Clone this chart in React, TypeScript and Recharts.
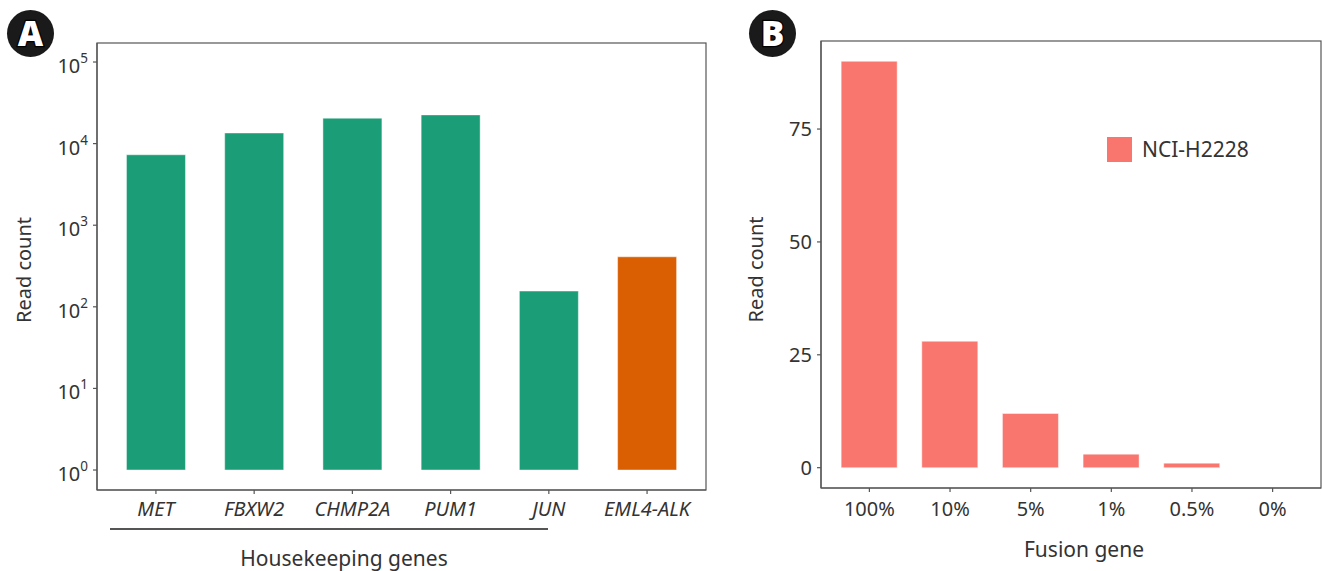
import React from 'react';
import { BarChart, Bar, XAxis, YAxis, Cell, Legend } from 'recharts';

const genes = ['MET', 'FBXW2', 'CHMP2A', 'PUM1', 'JUN', 'EML4-ALK'];
const geneCounts = [7300, 13500, 20500, 22500, 156, 410];
const geneColors = ['#1B9E77', '#1B9E77', '#1B9E77', '#1B9E77', '#1B9E77', '#D95F02'];
const logTicks = [1, 10, 100, 1000, 10000, 100000];
const logExponents = ['0', '1', '2', '3', '4', '5'];

const dilutions = ['100%', '10%', '5%', '1%', '0.5%', '0%'];
const fusionCounts = [90, 28, 12, 3, 1, 0];
const fusionTicks = [0, 25, 50, 75];
const cellLine = 'NCI-H2228';

const dataA = genes.map((g, i) => ({ gene: g, count: geneCounts[i], color: geneColors[i] }));
const dataB = dilutions.map((d, i) => ({ dilution: d, count: fusionCounts[i] }));

const FONT = '"Noto Sans", sans-serif';
const AXIS = '#555555';
const TEXT = '#333333';

const LogTick = (props: any) => {
  const { x, y, payload } = props;
  const idx = logTicks.indexOf(payload.value);
  return (
    <text x={x} y={y + 11} textAnchor="end" fontFamily={FONT} fontSize={20} fill={TEXT}>
      10
      <tspan dy={-10} fontSize={13.5}>{logExponents[idx]}</tspan>
    </text>
  );
};

const GeneTick = (props: any) => {
  const { x, y, payload } = props;
  return (
    <text x={x} y={y} dy="0.71em" textAnchor="middle" fontFamily={FONT} fontStyle="italic" fontSize={20} fill={TEXT}>
      {payload.value}
    </text>
  );
};

const LegendContent = () => (
  <div style={{ display: 'flex', alignItems: 'center', fontFamily: FONT, fontSize: 21, color: TEXT }}>
    <div style={{ width: 25, height: 25, background: '#F8766D', marginRight: 10 }} />
    <span>{cellLine}</span>
  </div>
);

const Badge = ({ cx, cy, letter }: { cx: number; cy: number; letter: string }) => (
  <g>
    <circle cx={cx} cy={cy} r={23.5} fill="#1a1a1a" />
    <text
      x={cx}
      y={cy + 12.5}
      textAnchor="middle"
      fontFamily={FONT}
      fontWeight={900}
      fontSize={35}
      fill="#ffffff"
      stroke="#000000"
      strokeWidth={2.5}
      paintOrder="stroke"
    >
      {letter}
    </text>
  </g>
);

export default function App() {
  return (
    <div style={{ position: 'absolute', left: 0, top: 0, width: 1322, height: 571, background: '#ffffff' }}>
      <div style={{ position: 'absolute', left: 0, top: 0 }}>
        <BarChart width={720} height={571} data={dataA} margin={{ top: 43, right: 14, bottom: 51, left: 0 }} barCategoryGap="20%">
          <XAxis
            dataKey="gene"
            height={30}
            padding={{ left: 9.82, right: 9.82 }}
            tick={<GeneTick />}
            tickSize={4}
            tickMargin={8}
            axisLine={{ stroke: AXIS, strokeWidth: 1.2 }}
            tickLine={{ stroke: AXIS, strokeWidth: 1.2 }}
            interval={0}
          />
          <YAxis
            scale="log"
            domain={[0.569, 171000]}
            allowDataOverflow
            ticks={logTicks}
            width={97}
            tick={<LogTick />}
            tickSize={4}
            tickMargin={5}
            interval={0}
            axisLine={{ stroke: AXIS, strokeWidth: 1.2 }}
            tickLine={{ stroke: AXIS, strokeWidth: 1.2 }}
          />
          <Bar dataKey={(d: any) => [1, d.count]} isAnimationActive={false} stroke="#ffffff" strokeOpacity={0.45} strokeWidth={1}>
            {dataA.map((d, i) => (
              <Cell key={i} fill={d.color} />
            ))}
          </Bar>
        </BarChart>
      </div>
      <div style={{ position: 'absolute', left: 740, top: 0 }}>
        <BarChart width={582} height={571} data={dataB} margin={{ top: 41, right: 1, bottom: 53, left: 0 }} barCategoryGap="15%">
          <XAxis
            dataKey="dilution"
            height={30}
            padding={{ left: 8.06, right: 8.06 }}
            tick={{ fontFamily: FONT, fontSize: 20, fill: TEXT }}
            tickSize={4}
            tickMargin={10}
            interval={0}
            axisLine={{ stroke: AXIS, strokeWidth: 1.2 }}
            tickLine={{ stroke: AXIS, strokeWidth: 1.2 }}
          />
          <YAxis
            domain={[-4.5, 94.5]}
            allowDataOverflow
            ticks={fusionTicks}
            width={81}
            tick={{ fontFamily: FONT, fontSize: 20, fill: TEXT }}
            tickSize={4}
            tickMargin={5}
            interval={0}
            axisLine={{ stroke: AXIS, strokeWidth: 1.2 }}
            tickLine={{ stroke: AXIS, strokeWidth: 1.2 }}
          />
          <Legend
            layout="vertical"
            align="center"
            verticalAlign="middle"
            content={<LegendContent />}
            wrapperStyle={{ left: 367, top: 135, width: 200, height: 25 }}
          />
          <Bar dataKey="count" name={cellLine} fill="#F8766D" isAnimationActive={false} stroke="#ffffff" strokeOpacity={0.45} strokeWidth={1} />
        </BarChart>
      </div>
      <svg width={1322} height={571} style={{ position: 'absolute', left: 0, top: 0, pointerEvents: 'none' }}>
        <rect x={97} y={43} width={609} height={447} fill="none" stroke={AXIS} strokeWidth={1.2} />
        <rect x={821} y={41} width={500} height={447} fill="none" stroke={AXIS} strokeWidth={1.2} />
        <Badge cx={30.5} cy={33.5} letter="A" />
        <Badge cx={772.5} cy={33.5} letter="B" />
        <text x={0} y={0} transform="translate(30.5,270) rotate(-90)" textAnchor="middle" fontFamily={FONT} fontSize={20} fill={TEXT}>
          Read count
        </text>
        <text x={0} y={0} transform="translate(762.5,269.5) rotate(-90)" textAnchor="middle" fontFamily={FONT} fontSize={20} fill={TEXT}>
          Read count
        </text>
        <line x1={110} x2={548} y1={529} y2={529} stroke="#555555" strokeWidth={2} />
        <text x={344} y={566} textAnchor="middle" fontFamily={FONT} fontSize={21} fill={TEXT}>
          Housekeeping genes
        </text>
        <text x={1084} y={557} textAnchor="middle" fontFamily={FONT} fontSize={21} fill={TEXT}>
          Fusion gene
        </text>
      </svg>
    </div>
  );
}
